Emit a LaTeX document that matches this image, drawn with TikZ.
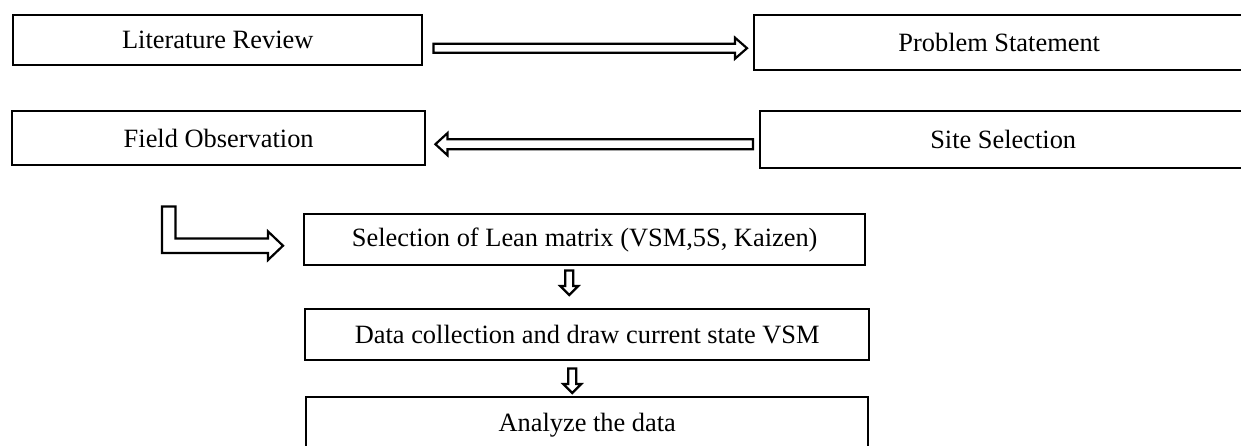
\documentclass[tikz,border=0pt]{standalone}
\usepackage{fontspec}
\setmainfont{Liberation Serif}
\usetikzlibrary{calc}

\begin{document}
\begin{tikzpicture}[x=1pt, y=-1pt,
    stage/.style={draw, line width=2.4pt, anchor=north west, inner sep=0pt,
                  font=\fontsize{26.4}{30}\selectfont},
    hollow/.style={draw, fill=white, line width=2.2pt, line join=miter}]

  \useasboundingbox (0,0) rectangle (1241,445);
  \clip (0,0) rectangle (1241,445);

  % top rows
  \node [stage, minimum width=409pt, minimum height=50pt] (lit) at (12,14) {Literature Review};
  \node [stage, minimum width=490pt, minimum height=55pt] (prob) at (753,14) {Problem Statement};
  \node [stage, minimum width=413pt, minimum height=54pt] (field) at (11,110) {Field Observation};
  \node [stage, minimum width=486pt, minimum height=57pt] (site) at (759,110) {Site Selection};

  % lean column
  \node [stage, minimum width=561pt, minimum height=51pt] (sel) at (303,213) {Selection of Lean matrix (VSM,5S, Kaizen)};
  \node [stage, minimum width=564pt, minimum height=51pt] (data) at (304,308) {Data collection and draw current state VSM};
  \node [stage, minimum width=562pt, minimum height=56pt] (ana) at (305,396) {Analyze the data};

  % arrow ends
  \coordinate (a1from) at ($(lit.east)+(10,8)$);
  \coordinate (a1to) at ($(prob.west)+(-6,5.5)$);
  \coordinate (a2from) at ($(site.west)+(-6,4.5)$);
  \coordinate (a2to) at ($(field.east)+(9,6)$);
  \coordinate (bfrom) at ($(field.south)+(-50,40)$);
  \coordinate (bto) at ($(sel.west)+(-20,6)$);
  \coordinate (d1from) at ($(sel.south)+(-15.5,4)$);
  \coordinate (d1to) at ($(d1from |- data.north)+(0,-13)$);
  \coordinate (d2from) at ($(data.south)+(-15,7)$);
  \coordinate (d2to) at ($(d2from |- ana.north)+(0,-3)$);

  % lit -> prob
  \draw [hollow] ($(a1from)+(0,-4.5)$) -- ($(a1to)+(-12,-4.5)$) -- ($(a1to)+(-12,-10.5)$)
    -- (a1to) -- ($(a1to)+(-12,10.5)$) -- ($(a1to)+(-12,4.5)$) -- ($(a1from)+(0,4.5)$) -- cycle;

  % site -> field
  \draw [hollow] ($(a2from)+(0,-5)$) -- ($(a2to)+(12,-5)$) -- ($(a2to)+(12,-11)$)
    -- (a2to) -- ($(a2to)+(12,11)$) -- ($(a2to)+(12,5)$) -- ($(a2from)+(0,5)$) -- cycle;

  % field -> sel, bent
  \draw [hollow] ($(bfrom)+(-6.7,0)$) -- ($(bfrom |- bto)+(-6.7,7.2)$) -- ($(bto)+(-15,7.2)$)
    -- ($(bto)+(-15,14.3)$) -- (bto) -- ($(bto)+(-15,-14.3)$) -- ($(bto)+(-15,-7.2)$)
    -- ($(bfrom |- bto)+(6.7,-7.2)$) -- ($(bfrom)+(6.7,0)$) -- cycle;

  % sel -> data
  \draw [hollow] ($(d1from)+(-4,0)$) -- ($(d1to)+(-4,-9)$) -- ($(d1to)+(-9,-9)$)
    -- (d1to) -- ($(d1to)+(9,-9)$) -- ($(d1to)+(4,-9)$) -- ($(d1from)+(4,0)$) -- cycle;

  % data -> ana
  \draw [hollow] ($(d2from)+(-4,0)$) -- ($(d2to)+(-4,-9)$) -- ($(d2to)+(-9,-9)$)
    -- (d2to) -- ($(d2to)+(9,-9)$) -- ($(d2to)+(4,-9)$) -- ($(d2from)+(4,0)$) -- cycle;

\end{tikzpicture}
\end{document}
